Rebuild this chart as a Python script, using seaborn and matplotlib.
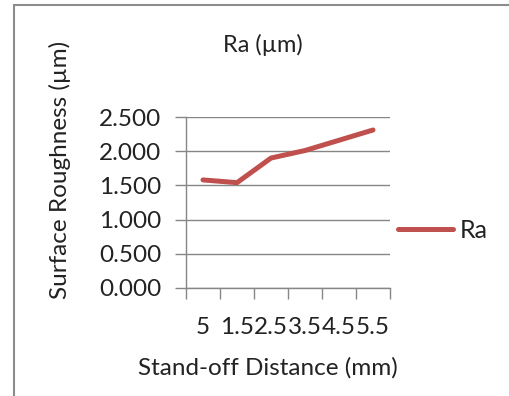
import matplotlib
matplotlib.use("Agg")
import matplotlib.pyplot as plt
import seaborn as sns
import pandas as pd
import numpy as np
from matplotlib.ticker import FixedLocator, FormatStrFormatter, NullFormatter
from matplotlib.patches import Rectangle

categories = ["5", "1.5", "2.5", "3.5", "4.5", "5.5"]
ra_values = [1.58, 1.54, 1.90, 2.01, 2.16, 2.31]
y_ticks = [0.0, 0.5, 1.0, 1.5, 2.0, 2.5]

df = pd.DataFrame({"Stand-off": categories, "Ra": ra_values})

sns.set_theme(style="white")
plt.rcParams["font.family"] = ["Lato", "DejaVu Sans"]

W, H = 509, 396
fig = plt.figure(figsize=(W / 100, H / 100), dpi=100)
ax = fig.add_axes([186 / W, 1 - 288 / H, (390 - 186) / W, (288 - 117) / H])

red = "#C0504D"
grid = "#868686"
txt = "#222222"
fs = 17.5

sns.lineplot(data=df, x="Stand-off", y="Ra", ax=ax, color=red, linewidth=3.6,
             sort=False, label="Ra", solid_capstyle="round", solid_joinstyle="round")

ax.set_ylim(0, 2.5)
ax.set_xlim(-0.5, len(categories) - 0.5)
ax.yaxis.set_major_locator(FixedLocator(y_ticks))
ax.yaxis.set_major_formatter(FormatStrFormatter("%.3f"))
ax.yaxis.grid(True, color=grid, linewidth=1)
ax.set_axisbelow(True)

# x ticks at category boundaries, labels at centers
n = len(categories)
ax.xaxis.set_major_locator(FixedLocator(np.arange(-0.5, n, 1.0)))
ax.xaxis.set_major_formatter(NullFormatter())
ax.xaxis.set_minor_locator(FixedLocator(np.arange(n)))
ax.set_xticklabels(categories, minor=True)
ax.tick_params(axis="x", which="major", direction="out", length=8, width=1, color=grid, bottom=True)
ax.tick_params(axis="x", which="minor", length=0, pad=21, labelsize=fs, labelcolor=txt)
ax.tick_params(axis="y", which="major", direction="out", length=8, width=1, color=grid,
               left=True, pad=10, labelsize=fs, labelcolor=txt)

for s in ["top", "right"]:
    ax.spines[s].set_visible(False)
for s in ["left", "bottom"]:
    ax.spines[s].set_color(grid)
    ax.spines[s].set_linewidth(1)

ax.set_xlabel("Stand-off Distance (mm)", fontsize=fs, color=txt)
ax.set_ylabel("Surface Roughness (µm)", fontsize=fs, color=txt)
ax.yaxis.set_label_coords((60 - 186) / (390 - 186), (288 - 170) / (288 - 117))
ax.xaxis.set_label_coords((268 - 186) / (390 - 186), -(368 - 288) / (288 - 117))
ax.xaxis.label.set_va("center")
ax.yaxis.label.set_va("center")

fig.text(263 / W, 1 - 45 / H, "Ra (µm)", ha="center", va="center", fontsize=17, color=txt)

leg = ax.legend(loc="center left", bbox_to_anchor=(398 / W, 1 - 230 / H),
                bbox_transform=fig.transFigure, frameon=False, fontsize=18,
                handlelength=2.2, handletextpad=0.25, borderpad=0, borderaxespad=0)
for t in leg.get_texts():
    t.set_color(txt)

fig.patches.append(Rectangle((14 / W, -0.1), 1.2, 1 - 5 / H + 0.1, transform=fig.transFigure,
                             fill=False, edgecolor="#8c8c8c", linewidth=1.5))

fig.savefig("out.png", dpi=100)
